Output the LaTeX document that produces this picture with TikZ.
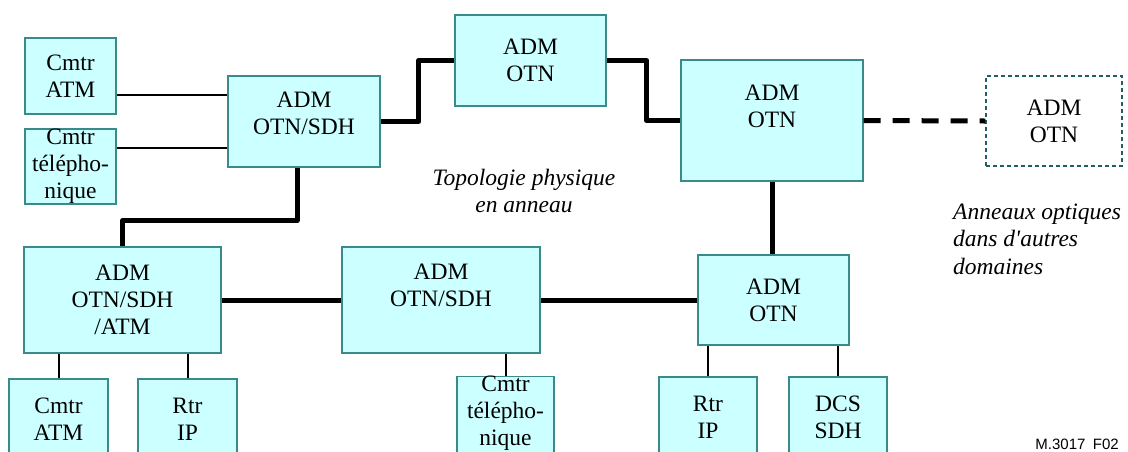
\documentclass[tikz,border=0pt]{standalone}
\usepackage{fontspec}
\setmainfont{Liberation Serif}
\newfontfamily\figsans{Liberation Sans}
\usetikzlibrary{calc}
\definecolor{boxfill}{HTML}{CCFFFF}
\definecolor{boxedge}{HTML}{3A8A8A}
\definecolor{extedge}{HTML}{1F5F66}
\newcommand{\padbelow}[1]{\rule[-#1]{0pt}{#1}}

\begin{document}
\begin{tikzpicture}[x=1pt,y=-1pt,
  box/.style={draw=boxedge,fill=boxfill,line width=1.2pt,align=center,inner sep=0pt,
    font=\fontsize{23.5}{27}\selectfont},
  extbox/.style={box,draw=extedge,fill=white,dash pattern=on 4pt off 3pt,line width=1.5pt},
  note/.style={align=center,inner sep=0pt,font=\itshape\fontsize{23.5}{27.5}\selectfont},
  ring/.style={line width=5pt,line join=round},
  tap/.style={line width=2pt}]
  \clip (0,0) rectangle (1128,451);
  \fill[white] (0,0) rectangle (1128,451);
  \node[box,minimum width=91pt,minimum height=76pt] (cmA) at (70.5,76) {Cmtr\\ATM};
  \node[box,minimum width=91pt,minimum height=75pt] (cmT) at (70.5,166.5) {Cmtr\\télépho-\\nique};
  \node[box,minimum width=152pt,minimum height=91pt] (admA) at (304,121.5) {ADM\\OTN/SDH\padbelow{16pt}};
  \node[box,minimum width=151pt,minimum height=91pt] (admB) at (530.5,60.5) {ADM\\OTN};
  \node[box,minimum width=182pt,minimum height=121pt] (admC) at (772,120.5) {ADM\\OTN\padbelow{28pt}};
  \node[extbox,minimum width=136pt,minimum height=90pt] (ext) at (1054,121) {ADM\\OTN};
  \node[box,minimum width=197pt,minimum height=106pt] (admD) at (122.5,300) {ADM\\OTN/SDH\\/ATM};
  \node[box,minimum width=198pt,minimum height=106pt] (admE) at (441,300) {ADM\\OTN/SDH\padbelow{29pt}};
  \node[box,minimum width=151pt,minimum height=90pt] (admF) at (773.5,300) {ADM\\OTN};
  \node[box,minimum width=99pt,minimum height=80pt] (cmB) at (58.5,419) {Cmtr\\ATM};
  \node[box,minimum width=99pt,minimum height=80pt] (rtB) at (187.5,419) {Rtr\\IP};
  \node[box,minimum width=97pt,minimum height=76pt] (cmM) at (505.5,416) {Cmtr\\télépho-\\nique\padbelow{10pt}};
  \node[box,minimum width=98pt,minimum height=80pt] (rtR) at (708,417) {Rtr\\IP};
  \node[box,minimum width=98pt,minimum height=80pt] (dcs) at (838,417) {DCS\\SDH};
  \node[note] (topo) at (524,191) {Topologie physique\\en anneau};
  \node[note,align=left,anchor=north west] (other) at (953,203.5) {Anneaux optiques\\dans d\textquotesingle autres\\domaines};
  \node[inner sep=0pt,anchor=base east,font=\figsans\fontsize{15}{18}\selectfont] (fig) at (1119,449) {M.3017\enspace F02};
  \draw[ring] (admA.east) -- ++(38,0) |- (admB.west);
  \draw[ring] (admB.east) -- ++(40,0) |- (admC.west);
  \draw[ring] (admC.south) -- (admC.south |- admF.north);
  \draw[ring,dash pattern=on 17pt off 12pt] (admC.east) -- (ext.west);
  \draw[ring] ([xshift=-7pt]admA.south) -- ++(0,53) -| (admD.north);
  \draw[ring] (admD.east) -- (admE.west);
  \draw[ring] (admE.east) -- (admF.west);
  \draw[tap] ([yshift=26.5pt]admA.west) -- ([yshift=26.5pt]admA.west -| cmA.east);
  \draw[tap] ([yshift=-26.5pt]admA.west) -- ([yshift=-26.5pt]admA.west -| cmT.east);
  \draw[tap] (cmB.north) -- (cmB.north |- admD.south);
  \draw[tap] (rtB.north) -- (rtB.north |- admD.south);
  \draw[tap] (cmM.north) -- (cmM.north |- admE.south);
  \draw[tap] (rtR.north) -- (rtR.north |- admF.south);
  \draw[tap] (dcs.north) -- (dcs.north |- admF.south);
\end{tikzpicture}
\end{document}
